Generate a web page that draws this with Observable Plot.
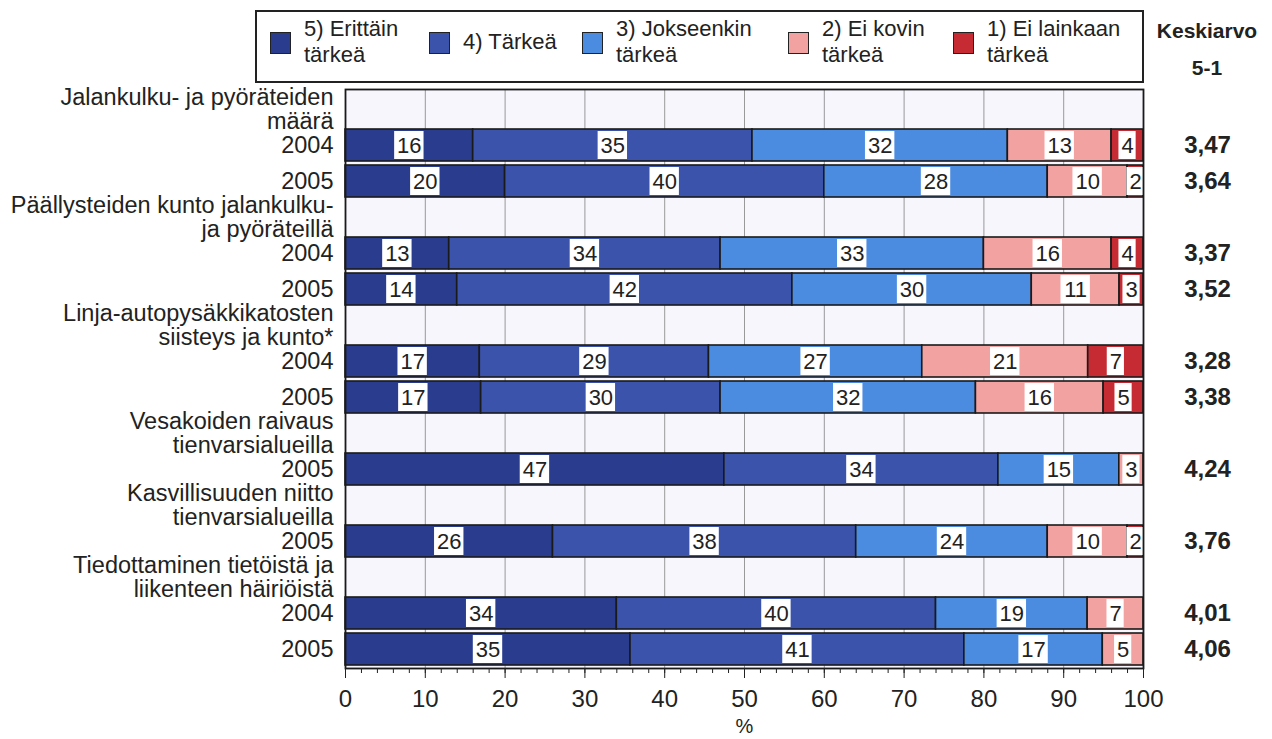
<!DOCTYPE html>
<html><head><meta charset="utf-8">
<script src="https://cdn.jsdelivr.net/npm/d3@7"></script>
<script src="https://cdn.jsdelivr.net/npm/@observablehq/plot@0.6"></script>
<style>
body{margin:0;background:#fff;font-family:"Liberation Sans",Arial,sans-serif;color:#222;}
#wrap{position:relative;width:1272px;height:739px;overflow:hidden;}
#head{position:relative;height:85px;}
#legend{position:absolute;left:255px;top:10px;width:885px;height:69px;border:2px solid #222;}
.sw{position:absolute;top:32px;width:19px;height:20px;border:1px solid #222;}
.lab{position:absolute;top:0;height:84px;display:flex;align-items:center;font-size:22px;line-height:26px;white-space:pre-line;margin-top:0px;}
#kesk{position:absolute;left:1150px;top:12px;width:114px;text-align:center;font-weight:bold;font-size:21px;line-height:37px;white-space:pre-line;}
#chart svg{display:block;}
</style></head>
<body>
<div id="wrap">
  <div id="head"><div id="legend"></div><div id="kesk"></div></div>
  <div id="chart"></div>
</div>
<script>
// ---- data ----
const levels = ["5) Erittäin\ntärkeä", "4) Tärkeä", "3) Jokseenkin\ntärkeä", "2) Ei kovin\ntärkeä", "1) Ei lainkaan\ntärkeä"];
const levelColors = ["#293c8d", "#3b53ab", "#4b8ce1", "#f3a2a2", "#c62a33"];
const groups = [
  "Jalankulku- ja pyöräteiden\nmäärä",
  "Päällysteiden kunto jalankulku-\nja pyöräteillä",
  "Linja-autopysäkkikatosten\nsiisteys ja kunto*",
  "Vesakoiden raivaus\ntienvarsialueilla",
  "Kasvillisuuden niitto\ntienvarsialueilla",
  "Tiedottaminen tietöistä ja\nliikenteen häiriöistä"
];
const rowGroup = [0, 0, 1, 1, 2, 2, 3, 4, 5, 5];
const rowYear  = ["2004", "2005", "2004", "2005", "2004", "2005", "2005", "2005", "2004", "2005"];
const v5 = [16, 20, 13, 14, 17, 17, 47, 26, 34, 35];
const v4 = [35, 40, 34, 42, 29, 30, 34, 38, 40, 41];
const v3 = [32, 28, 33, 30, 27, 32, 15, 24, 19, 17];
const v2 = [13, 10, 16, 11, 21, 16, 3, 10, 7, 5];
const v1 = [4, 2, 4, 3, 7, 5, 0, 2, 0, 0];
const means = ["3,47", "3,64", "3,37", "3,52", "3,28", "3,38", "4,24", "3,76", "4,01", "4,06"];
const meanHeader = "Keskiarvo\n5-1";
const xTicks = [0, 10, 20, 30, 40, 50, 60, 70, 80, 90, 100];
const xLabel = "%";

// ---- layout ----
const W = 1272, H = 654;
const mL = 345, mR = 129, mT = 4, mB = 71;
const legendSwX = [270, 429, 582, 788, 953];
const pxPerUnit = (W - mL - mR) / 100;

// legend (HTML)
const head = document.getElementById("head");
levels.forEach((l, k) => {
  const sw = document.createElement("div");
  sw.className = "sw"; sw.style.left = legendSwX[k] + "px"; sw.style.background = levelColors[k];
  head.appendChild(sw);
  const lab = document.createElement("div");
  lab.className = "lab"; lab.style.left = (legendSwX[k] + 34) + "px";
  lab.textContent = l;
  head.appendChild(lab);
});
document.getElementById("kesk").textContent = meanHeader;

// slots: group title slot followed by its year rows
const slots = [], slotText = [], rowSlot = [];
rowGroup.forEach((g, i) => {
  if (i === 0 || rowGroup[i - 1] !== g) { slots.push("g" + g); slotText.push(groups[g]); }
  slots.push("r" + i); slotText.push(rowYear[i]); rowSlot.push("r" + i);
});
const slotRows = slots.map((s, i) => ({slot: s, text: slotText[i]}));

const values = [v5, v4, v3, v2, v1];
const segs = [];
rowSlot.forEach((s, i) => {
  const tot = d3.sum(values, v => v[i]);
  let acc = 0;
  values.forEach((v, k) => {
    const val = v[i];
    if (!val) return;
    const x1 = acc / tot * 100; acc += val; const x2 = acc / tot * 100;
    const mid = (x1 + x2) / 2;
    const hw = (String(val).length * 12.2 + 5) / pxPerUnit / 2;
    segs.push({slot: s, level: levels[k], val, x1, x2, mid, b1: mid - hw, b2: mid + hw});
  });
});
const meanRows = rowSlot.map((s, i) => ({slot: s, text: means[i]}));

const chart = Plot.plot({
  width: W, height: H,
  marginLeft: mL, marginRight: mR, marginTop: mT, marginBottom: mB,
  style: {fontFamily: "Liberation Sans, Arial, sans-serif", fontSize: "22px", color: "#222", background: "transparent", overflow: "visible"},
  x: {domain: [0, 100]},
  y: {domain: slots, padding: 0, axis: null},
  color: {domain: levels, range: levelColors},
  marks: [
    Plot.frame({fill: "#f6f6fc"}),
    Plot.ruleX(xTicks.slice(1, -1), {stroke: "#999", strokeWidth: 1}),
    Plot.barX(segs, {x1: "x1", x2: "x2", y: "slot", fill: "level", stroke: "#1a1a1a", strokeWidth: 1.6, insetTop: 2, insetBottom: 2}),
    Plot.barX(segs, {x1: "b1", x2: "b2", y: "slot", fill: "white", insetTop: 4, insetBottom: 4}),
    Plot.text(segs, {x: "mid", y: "slot", text: d => String(d.val), fill: "#222", fontSize: 22}),
    Plot.text(slotRows, {y: "slot", text: "text", frameAnchor: "left", textAnchor: "end", lineAnchor: "middle", dx: -12, lineHeight: 1.03, fontSize: 23.5, fill: "#222"}),
    Plot.text(meanRows, {y: "slot", text: "text", frameAnchor: "right", textAnchor: "middle", dx: 64, fontWeight: "bold", fontSize: 24, fill: "#222"}),
    Plot.frame({stroke: "#1a1a1a", strokeWidth: 1.8}),
    Plot.axisX({ticks: d3.range(0, 101, 2), tickSize: 5, tickFormat: () => "", label: null, stroke: "#222"}),
    Plot.axisX({ticks: xTicks, tickSize: 10, tickPadding: 11, label: null, fontSize: 24, fill: "#222", stroke: "#222"}),
    Plot.text([xLabel], {text: d => d, frameAnchor: "bottom", lineAnchor: "middle", dy: 58, fontSize: 20, fill: "#222"})
  ]
});
document.getElementById("chart").appendChild(chart);
</script>
</body></html>
